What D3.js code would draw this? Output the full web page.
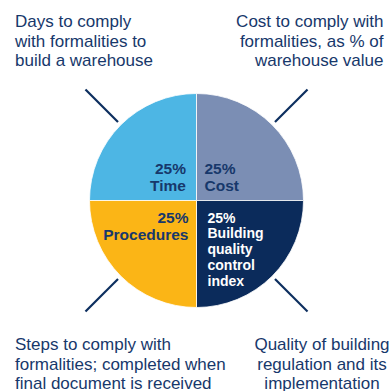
<!DOCTYPE html>
<html>
<head>
<meta charset="utf-8">
<script src="https://cdn.jsdelivr.net/npm/d3@7"></script>
<style>
  body { margin: 0; background: #fff; }
  svg { display: block; }
</style>
</head>
<body>
<div id="chart"></div>
<script>
// clockwise from 9 o'clock
const categories = ["Time", "Cost", "Building quality control index", "Procedures"];
const shares = [25, 25, 25, 25];
const categoryLines = [["Time"], ["Cost"], ["Building", "quality", "control", "index"], ["Procedures"]];
const descriptions = [
  ["Days to comply", "with formalities to", "build a warehouse"],
  ["Cost to comply with", "formalities, as % of", "warehouse value"],
  ["Quality of building", "regulation and its", "implementation"],
  ["Steps to comply with", "formalities; completed when", "final document is received"]
];

const colors = ["#4db6e4", "#7b8eb4", "#0b2b5b", "#fbb516"];
const navy = "#17386b";

const width = 391, height = 391;
const cx = 196.5, cy = 200.5, radius = 107;

const svg = d3.select("#chart")
    .append("svg")
    .attr("width", width)
    .attr("height", height);

const data = categories.map((c, i) => ({name: c, value: shares[i], lines: categoryLines[i], desc: descriptions[i], color: colors[i]}));

const pie = d3.pie()
    .sort(null)
    .value(d => d.value)
    .startAngle(-Math.PI / 2)
    .endAngle(Math.PI * 1.5);

const arc = d3.arc().innerRadius(0).outerRadius(radius);

const g = svg.append("g")
    .attr("transform", `translate(${cx},${cy})`);

const slices = g.selectAll(".slice")
    .data(pie(data))
    .enter().append("g")
    .attr("class", "slice");

slices.append("path")
    .attr("d", arc)
    .style("fill", d => d.data.color)
    .style("stroke", "#fff")
    .style("stroke-width", 0.8);

// leader lines at the slice mid angles
slices.append("line")
    .attr("x1", d => Math.sin((d.startAngle + d.endAngle) / 2) * 111)
    .attr("y1", d => -Math.cos((d.startAngle + d.endAngle) / 2) * 111)
    .attr("x2", d => Math.sin((d.startAngle + d.endAngle) / 2) * 157)
    .attr("y2", d => -Math.cos((d.startAngle + d.endAngle) / 2) * 157)
    .style("stroke", "#0d2f5f")
    .style("stroke-width", 2.2);

// labels inside slices, hugging the centre
slices.each(function(d) {
    const [px, py] = arc.centroid(d);
    const right = px > 0, bottom = py > 0;
    const dark = d.data.color === "#0b2b5b";
    const fs = dark ? 14 : 15.5;
    const lh = dark ? 15.8 : 17;
    const lines = [d.data.value + "%"].concat(d.data.lines);
    const x = right ? (dark ? 11 : 8) : (bottom ? -8 : -10.5);
    const y0 = bottom ? 22 : -9.5 - (lines.length - 1) * lh;
    d3.select(this).append("text")
        .attr("text-anchor", right ? "start" : "end")
        .style("font-family", "'Liberation Sans', Arial, sans-serif")
        .style("font-weight", "bold")
        .style("font-size", fs + "px")
        .style("fill", dark ? "#fff" : navy)
        .selectAll("tspan")
        .data(lines)
        .enter().append("tspan")
        .attr("x", x)
        .attr("y", (t, i) => y0 + i * lh)
        .text(t => t);
});

// corner descriptions
const corners = [
    {x: 15, y: 27, anchor: "start"},
    {x: 383.5, y: 27, anchor: "end"},
    {x: 322, y: 350, anchor: "middle"},
    {x: 15, y: 350, anchor: "start"}
];

data.forEach((d, i) => {
    const c = corners[i];
    svg.append("text")
        .attr("text-anchor", c.anchor)
        .style("font-family", "'Liberation Sans', Arial, sans-serif")
        .style("font-size", "17px")
        .style("fill", navy)
        .selectAll("tspan")
        .data(d.desc)
        .enter().append("tspan")
        .attr("x", c.x)
        .attr("y", (t, j) => c.y + j * 19.5)
        .text(t => t);
});
</script>
</body>
</html>
